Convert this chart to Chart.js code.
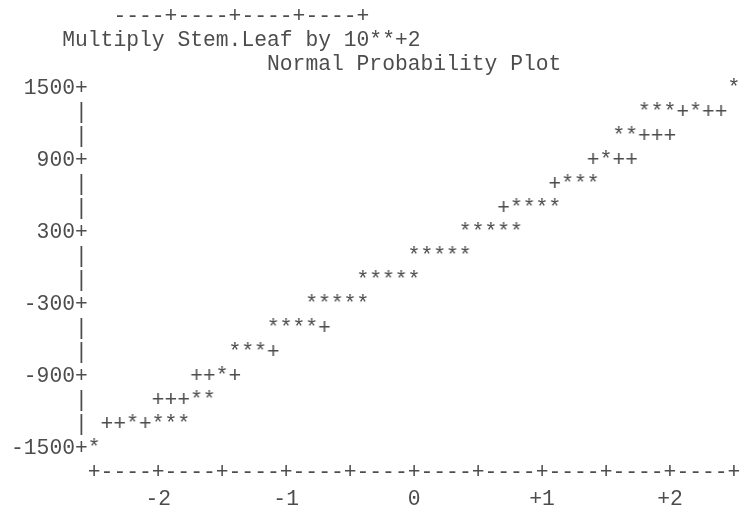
<!DOCTYPE html>
<html>
<head>
<meta charset="utf-8">
<script src="https://cdn.jsdelivr.net/npm/chart.js@4"></script>
<style>
  html, body { margin: 0; padding: 0; background: #ffffff; }
  #plot { display: block; }
</style>
</head>
<body>
<canvas id="plot" width="741" height="508"></canvas>
<script>
// Header lines printed above the plot (tail of the stem-and-leaf box, scaling note, plot title)
const headerLines = [
  '        ----+----+----+----+',
  '    Multiply Stem.Leaf by 10**+2',
  '                    Normal Probability Plot'
];

// Vertical axis: value rows every 200, labelled rows get a trailing '+'
const yMin = -1500;
const yMax = 1500;
const yStep = 200;
const yLabelled = [1500, 900, 300, -300, -900, -1500];

// Horizontal axis: normal quantiles, one print column per 0.1
const xMin = -2.5;
const xMax = 2.5;
const xLabelled = [-2, -1, 0, 1, 2];
const xLabelText = ['-2', '-1', '0', '+1', '+2'];

// Observations ('*'): normal quantile and value row
const starX = [
  -2.5,
  -2.2, -2.0, -1.9, -1.8,
  -1.7, -1.6,
  -1.5,
  -1.4, -1.3, -1.2,
  -1.1, -1.0, -0.9, -0.8,
  -0.8, -0.7, -0.6, -0.5, -0.4,
  -0.4, -0.3, -0.2, -0.1, 0.0,
  0.0, 0.1, 0.2, 0.3, 0.4,
  0.4, 0.5, 0.6, 0.7, 0.8,
  0.8, 0.9, 1.0, 1.1,
  1.2, 1.3, 1.4,
  1.5,
  1.6, 1.7,
  1.8, 1.9, 2.0, 2.2,
  2.5
];
const starY = [
  -1500,
  -1300, -1300, -1300, -1300,
  -1100, -1100,
  -900,
  -700, -700, -700,
  -500, -500, -500, -500,
  -300, -300, -300, -300, -300,
  -100, -100, -100, -100, -100,
  100, 100, 100, 100, 100,
  300, 300, 300, 300, 300,
  500, 500, 500, 500,
  700, 700, 700,
  900,
  1100, 1100,
  1300, 1300, 1300, 1300,
  1500
];

// Reference line ('+') cells left visible where no observation falls
const plusX = [
  -2.4, -2.3, -2.1,
  -2.0, -1.9, -1.8,
  -1.7, -1.6, -1.4,
  -1.1,
  -0.7,
  0.7,
  1.1,
  1.4, 1.6, 1.7,
  1.8, 1.9, 2.0,
  2.1, 2.3, 2.4
];
const plusY = [
  -1300, -1300, -1300,
  -1100, -1100, -1100,
  -900, -900, -900,
  -700,
  -500,
  500,
  700,
  900, 900, 900,
  1100, 1100, 1100,
  1300, 1300, 1300
];

const FONT_FAMILY = '"Liberation Mono", "Courier New", monospace';
const FONT_SIZE = 21.33;
const CHAR_W = 12.8;
const INK = '#4d4d4d';

// Render a single printer character into a small canvas used as a point style
function glyph(ch) {
  const c = document.createElement('canvas');
  c.width = 14;
  c.height = 26;
  const g = c.getContext('2d');
  g.font = FONT_SIZE + 'px ' + FONT_FAMILY;
  g.fillStyle = INK;
  g.textAlign = 'center';
  g.textBaseline = 'middle';
  g.fillText(ch, 7, 13);
  return c;
}

const toPoints = (xs, ys) => xs.map((x, i) => ({ x: x, y: ys[i] }));
const near = (a, b) => Math.abs(a - b) < 1e-6;

new Chart(document.getElementById('plot'), {
  type: 'scatter',
  data: {
    datasets: [
      {
        label: 'Reference',
        data: toPoints(plusX, plusY),
        pointStyle: glyph('+'),
        pointRadius: 6,
        showLine: false,
        clip: false
      },
      {
        label: 'Observed',
        data: toPoints(starX, starY),
        pointStyle: glyph('*'),
        pointRadius: 6,
        showLine: false,
        clip: false
      }
    ]
  },
  options: {
    responsive: false,
    animation: false,
    devicePixelRatio: 1,
    events: [],
    layout: { padding: { left: 11, right: 6.8, top: 0, bottom: -4.5 } },
    plugins: {
      legend: { display: false },
      tooltip: { enabled: false },
      title: {
        display: true,
        text: headerLines,
        align: 'start',
        color: INK,
        font: { family: FONT_FAMILY, size: FONT_SIZE, weight: 'normal', lineHeight: '24.1px' },
        padding: { top: 4.5, bottom: 11.2 }
      }
    },
    scales: {
      x: {
        type: 'linear',
        min: xMin,
        max: xMax,
        grid: { display: false, drawTicks: false },
        border: { display: false },
        afterBuildTicks: (scale) => {
          const cols = Math.round((xMax - xMin) * 10);
          const ticks = [];
          for (let i = 0; i <= cols; i++) ticks.push({ value: xMin + i / 10 });
          scale.ticks = ticks;
        },
        // one padding above the labels, two label lines, edge labels half a character wide
        afterFit: (scale) => {
          scale.height = 10.5 + 2 * 27;
          scale.paddingLeft = CHAR_W / 2;
          scale.paddingRight = CHAR_W / 2;
        },
        ticks: {
          autoSkip: false,
          maxRotation: 0,
          minRotation: 0,
          padding: 10.5,
          color: INK,
          font: { family: FONT_FAMILY, size: FONT_SIZE, lineHeight: '27px' },
          callback: (v) => {
            const k = xLabelled.findIndex((q) => near(q, v));
            if (k >= 0) return ['+', xLabelText[k]];
            if (near(Math.round(v * 2) / 2, v)) return '+';
            return '-';
          }
        }
      },
      y: {
        type: 'linear',
        min: yMin,
        max: yMax,
        grid: { display: false, drawTicks: false },
        border: { display: false },
        // widest label ("-1500+") plus one padding on the plot side
        afterFit: (scale) => {
          scale.width = 6 * CHAR_W + 6.4;
        },
        ticks: {
          stepSize: yStep,
          autoSkip: false,
          padding: 6.4,
          color: INK,
          font: { family: FONT_FAMILY, size: FONT_SIZE, lineHeight: '24.1px' },
          callback: (v) => (yLabelled.includes(v) ? v + '+' : '|')
        }
      }
    }
  }
});
</script>
</body>
</html>
